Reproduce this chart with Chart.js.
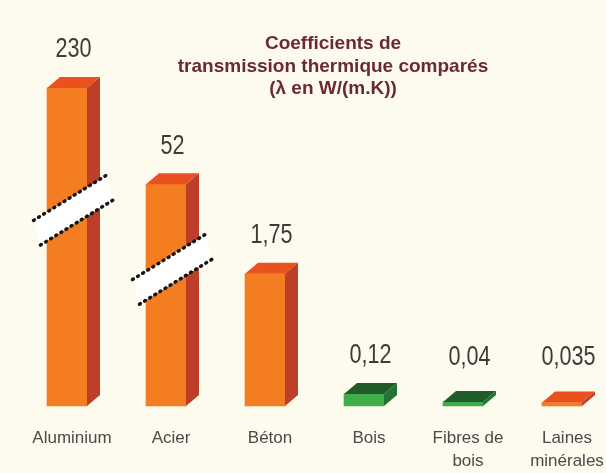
<!DOCTYPE html>
<html>
<head>
<meta charset="utf-8">
<script src="https://cdn.jsdelivr.net/npm/chart.js@4"></script>
<style>
  html, body { margin: 0; padding: 0; background: #fdfaee; }
  #wrap { width: 606px; height: 473px; }
</style>
</head>
<body>
<div id="wrap"><canvas id="lambdaChart" width="606" height="473"></canvas></div>
<script>
const materials = ["Aluminium", "Acier", "Béton", "Bois", ["Fibres de", "bois"], ["Laines", "minérales"]];
const lambdaValues = [230, 52, 1.75, 0.12, 0.04, 0.035];
const titleLines = ["Coefficients de", "transmission thermique comparés", "(λ en W/(m.K))"];

// broken axis: values at the knots land on these fractions of the axis height
const axisKnots = [0, 0.12, 1.75, 52, 230];
const axisFractions = [0, 0.038, 0.416, 0.697, 1];

const orange = { front: "#f57d21", top: "#e9521f", side: "#bd3f29" };
const green = { front: "#3fae4a", top: "#1f5c2a", side: "#237334" };
const faces = [orange, orange, orange, green, green, orange];
const depth = { dx: 13, dy: -11 };

class BrokenScale extends Chart.LinearScale {
  toFraction(v) {
    for (let i = 1; i < axisKnots.length; i++) {
      if (v <= axisKnots[i] || i === axisKnots.length - 1) {
        const t = (v - axisKnots[i - 1]) / (axisKnots[i] - axisKnots[i - 1]);
        return axisFractions[i - 1] + t * (axisFractions[i] - axisFractions[i - 1]);
      }
    }
    return 0;
  }
  getPixelForValue(value) {
    return this.getPixelForDecimal(this.toFraction(value));
  }
  getValueForPixel(pixel) {
    const f = this.getDecimalForPixel(pixel);
    for (let i = 1; i < axisFractions.length; i++) {
      if (f <= axisFractions[i]) {
        const t = (f - axisFractions[i - 1]) / (axisFractions[i] - axisFractions[i - 1]);
        return axisKnots[i - 1] + t * (axisKnots[i] - axisKnots[i - 1]);
      }
    }
    return axisKnots[axisKnots.length - 1];
  }
}
BrokenScale.id = "broken";
BrokenScale.defaults = Chart.LinearScale.defaults;
Chart.register(BrokenScale);

function poly(ctx, pts, color) {
  ctx.beginPath();
  ctx.moveTo(pts[0][0], pts[0][1]);
  pts.slice(1).forEach(p => ctx.lineTo(p[0], p[1]));
  ctx.closePath();
  ctx.fillStyle = color;
  ctx.fill();
}

const boxPlugin = {
  id: "box3d",
  afterDatasetsDraw(chart) {
    const ctx = chart.ctx;
    const { dx, dy } = depth;
    const area = chart.chartArea;
    ctx.save();
    chart.getDatasetMeta(0).data.forEach((bar, i) => {
      const { x, y, base, width } = bar.getProps(["x", "y", "base", "width"], true);
      const l = x - width / 2, r = x + width / 2;
      poly(ctx, [[l, y], [l + dx, y + dy], [r + dx, y + dy], [r, y]], faces[i].top);
      poly(ctx, [[r, y], [r + dx, y + dy], [r + dx, base + dy], [r, base]], faces[i].side);
    });

    // axis breaks on the two tallest bars
    const breaks = [{ index: 0, at: 0.616 }, { index: 1, at: 0.43 }];
    breaks.forEach(b => {
      const bar = chart.getDatasetMeta(0).data[b.index];
      const cx = bar.x + dx / 2;
      const cy = area.bottom - b.at * (area.bottom - area.top);
      const s = -0.62, gap = 14.5;
      const up = X => cy - gap + s * (X - cx);
      const lo = X => cy + gap + s * (X - cx);
      poly(ctx, [[cx - 40, up(cx - 40)], [cx + 33, up(cx + 33)], [cx + 40, lo(cx + 40)], [cx - 33, lo(cx - 33)]], "#ffffff");
      ctx.strokeStyle = "#151515";
      ctx.lineWidth = 3.5;
      ctx.lineCap = "round";
      ctx.setLineDash([1, 5]);
      ctx.beginPath();
      ctx.moveTo(cx - 40, up(cx - 40));
      ctx.lineTo(cx + 33, up(cx + 33));
      ctx.moveTo(cx - 33, lo(cx - 33));
      ctx.lineTo(cx + 40, lo(cx + 40));
      ctx.stroke();
      ctx.setLineDash([]);
    });

    // value labels, squeezed to look like a narrow face
    ctx.fillStyle = "#3b3b3b";
    ctx.font = "27px 'Liberation Sans', sans-serif";
    ctx.textAlign = "center";
    ctx.textBaseline = "middle";
    chart.getDatasetMeta(0).data.forEach((bar, i) => {
      const ly = Math.min(bar.y + dy - 27, bar.base - 48);
      ctx.save();
      ctx.translate(bar.x + dx / 2, ly);
      ctx.scale(0.8, 1);
      ctx.fillText(String(lambdaValues[i]).replace(".", ","), 0, 0);
      ctx.restore();
    });

    // title
    ctx.fillStyle = "#6b2a30";
    ctx.font = "bold 19px 'Liberation Sans', sans-serif";
    titleLines.forEach((t, k) => ctx.fillText(t, 333, 44 + k * 22.5));
    ctx.restore();
  }
};

new Chart(document.getElementById("lambdaChart"), {
  type: "bar",
  data: {
    labels: materials,
    datasets: [{
      data: lambdaValues,
      backgroundColor: faces.map(f => f.front),
      barThickness: 40,
      borderWidth: 0,
      clip: false
    }]
  },
  options: {
    responsive: false,
    animation: false,
    layout: { padding: { top: 88, left: 67, right: 44, bottom: 0 } },
    plugins: { legend: { display: false }, tooltip: { enabled: false } },
    scales: {
      x: {
        offset: false,
        grid: { display: false, drawTicks: false },
        border: { display: false },
        afterFit(scale) {
          scale.height = 67;
          scale.paddingLeft = 0;
          scale.paddingRight = 0;
        },
        ticks: {
          autoSkip: false,
          maxRotation: 0,
          padding: 21,
          labelOffset: 5,
          color: "#4a4a4a",
          font: { family: "'Liberation Sans', sans-serif", size: 17, lineHeight: 1.35 }
        }
      },
      y: {
        type: "broken",
        min: 0,
        max: 230,
        display: false
      }
    }
  },
  plugins: [boxPlugin]
});
</script>
</body>
</html>
